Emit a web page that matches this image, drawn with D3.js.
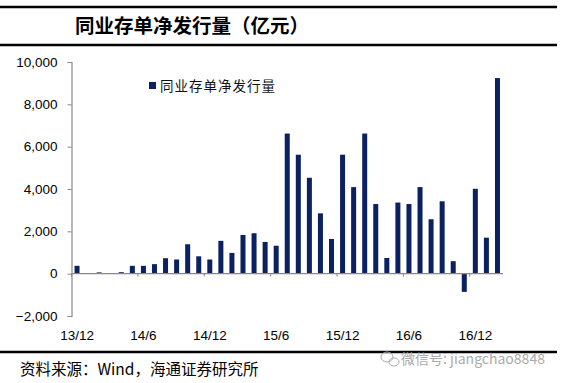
<!DOCTYPE html>
<html><head><meta charset="utf-8">
<script src="https://cdn.jsdelivr.net/npm/d3@7"></script>
<style>html,body{margin:0;padding:0;background:#fff;}svg{display:block;}</style>
</head><body>
<script>
const months = ["13/12","14/1","14/2","14/3","14/4","14/5","14/6","14/7","14/8","14/9","14/10","14/11","14/12",
  "15/1","15/2","15/3","15/4","15/5","15/6","15/7","15/8","15/9","15/10","15/11","15/12",
  "16/1","16/2","16/3","16/4","16/5","16/6","16/7","16/8","16/9","16/10","16/11","16/12","17/1","17/2"];
const netIssuance = [370,20,60,10,70,370,370,450,730,670,1390,820,670,
  1550,980,1830,1910,1500,1320,6620,5620,4530,2850,1640,5620,
  4090,6620,3290,740,3360,3290,4090,2570,3420,590,-860,4010,1700,9240];
const xTickLabels = ["13/12","14/6","14/12","15/6","15/12","16/6","16/12"];
const yTicks = [-2000,0,2000,4000,6000,8000,10000];
const seriesName = "同业存单净发行量";
const titleText = "同业存单净发行量（亿元）";
const sourceText = "资料来源：Wind，海通证券研究所";
const watermarkText = "微信号: jiangchao8848";

const W = 563, H = 383;
const svg = d3.select("body").append("svg").attr("width", W).attr("height", H);
const barColor = "#0b2161";

// header
svg.append("line").attr("x1",0).attr("x2",557).attr("y1",7).attr("y2",7).attr("stroke","#000").attr("stroke-width",2.5);
svg.append("line").attr("x1",0).attr("x2",557).attr("y1",45).attr("y2",45).attr("stroke","#000").attr("stroke-width",2.5);
svg.append("text").attr("x",75).attr("y",33).text(titleText)
  .attr("font-family","'Noto Sans CJK SC'").attr("font-weight","bold").attr("font-size",19.5).attr("fill","#000");

const x = d3.scaleBand().domain(months).range([71.5, 503]).padding(0);
const y = d3.scaleLinear().domain([-2000, 10000]).range([316, 62]);
const bw = 5;

// y axis
const yAxis = svg.append("g").attr("transform","translate(71.5,0)")
  .call(d3.axisLeft(y).tickValues(yTicks).tickSize(4).tickPadding(10).tickFormat(d3.format(",")));
yAxis.select(".domain").attr("stroke","#888").attr("stroke-width",1.2);
yAxis.selectAll(".tick line").attr("stroke","#888");
yAxis.selectAll(".tick text").attr("font-family","'Liberation Sans', Arial").attr("font-size",13.5).attr("fill","#000");

// bars
svg.append("g").selectAll("rect").data(netIssuance).join("rect")
  .attr("x",(d,i)=>x(months[i]) + (x.bandwidth()-bw)/2)
  .attr("width",bw)
  .attr("y",d=>y(Math.max(0,d)))
  .attr("height",d=>Math.abs(y(d)-y(0)))
  .attr("fill",barColor);

// x axis
const y0 = y(0);
svg.append("line").attr("x1",71.5).attr("x2",503).attr("y1",y0).attr("y2",y0).attr("stroke","#888").attr("stroke-width",1.2);
svg.append("g").selectAll("line").data(xTickLabels).join("line")
  .attr("x1",d=>x(d)).attr("x2",d=>x(d)).attr("y1",y0).attr("y2",y0+3).attr("stroke","#888");
svg.append("g").selectAll("text").data(xTickLabels).join("text")
  .attr("x",d=>x(d)+x.bandwidth()/2).attr("y",340).attr("text-anchor","middle")
  .attr("font-family","'Liberation Sans', Arial").attr("font-size",13.5).attr("fill","#000").text(d=>d);

// legend
svg.append("rect").attr("x",149).attr("y",82).attr("width",7).attr("height",7).attr("fill",barColor);
svg.append("text").attr("x",160).attr("y",91).text(seriesName)
  .attr("font-family","'Noto Sans CJK SC'").attr("font-size",13.5).attr("fill","#111").attr("letter-spacing",1);

// footer
svg.append("line").attr("x1",0).attr("x2",557).attr("y1",352).attr("y2",352).attr("stroke","#000").attr("stroke-width",2.5);
svg.append("text").attr("x",20).attr("y",375).text(sourceText)
  .attr("font-family","'Noto Sans CJK SC'").attr("font-size",15.5).attr("fill","#000");
// watermark
const wm = svg.append("g").attr("fill","none").attr("stroke","#aaa").attr("stroke-width",1);
wm.append("ellipse").attr("cx",387).attr("cy",357).attr("rx",6).attr("ry",5);
wm.append("ellipse").attr("cx",394).attr("cy",362).attr("rx",5).attr("ry",4);
svg.append("text").attr("x",401).attr("y",364).text(watermarkText)
  .attr("font-family","'Noto Sans CJK SC'").attr("font-size",14).attr("fill","#aaa");
</script>
</body></html>
